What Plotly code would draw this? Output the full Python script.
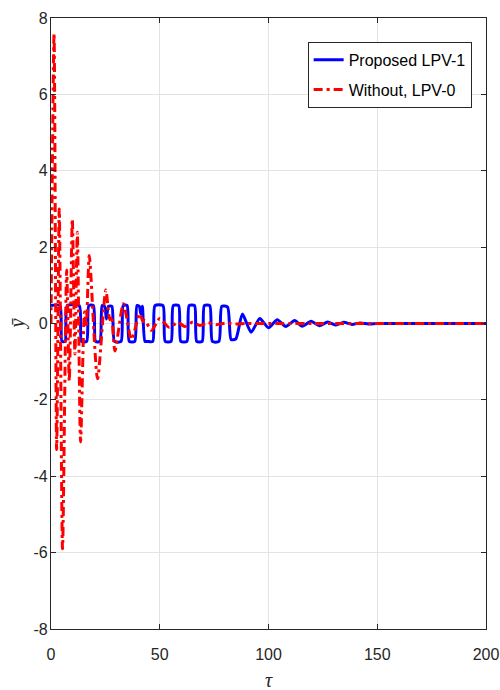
import plotly.graph_objects as go

# Proposed LPV-1 (blue) : tau, value
blue_t = [0, 4.1, 5.0, 6.5, 7.5, 13.0, 14.0, 16.4, 17.4, 19.5, 20.5, 22.5, 23.5, 24.6, 25.5, 26.4,
          28.0, 29.2, 32.2, 33.2, 35.0, 36.0, 38.5, 39.5, 40.6, 41.3, 42.0, 43.2, 44.3, 46.8, 47.8,
          51.5, 52.5, 55.2, 56.2, 58.7, 59.7, 62.5, 63.5, 66.0, 67.0, 69.5, 70.5, 73.0, 74.2, 77.2,
          78.5, 81.2, 82.8, 85.0, 88.0, 92.0, 96.0, 100.0, 104.0, 108.0, 112.0, 115.5, 119.6, 123.4,
          127.2, 131.0, 134.6, 138.4, 142.2, 146.0, 150.0, 160.0, 200.0]
blue_y = [0.47, 0.47, -0.47, -0.47, 0.47, 0.47, -0.47, -0.47, 0.47, 0.47, -0.47, -0.47, 0.47, 0.45, 0.12, 0.45,
          0.45, -0.47, -0.47, 0.47, 0.47, -0.47, -0.47, 0.47, 0.45, 0.25, 0.45, -0.47, -0.47, -0.47, 0.47,
          0.47, -0.47, -0.47, 0.47, 0.47, -0.47, -0.47, 0.47, 0.47, -0.47, -0.47, 0.47, 0.47, -0.47, -0.47,
          0.45, 0.43, -0.42, -0.40, 0.25, -0.23, 0.13, -0.11, 0.10, -0.08, 0.08, -0.07, 0.06, -0.06,
          0.04, -0.04, 0.03, -0.025, 0.015, -0.01, 0.0, 0.0, 0.0]

# Without, LPV-0 (red) : tau, value
red_t = [0, 1.4, 2.6, 3.8, 5.3, 7.2, 8.4, 9.8, 11.0, 12.1, 13.6, 15.4, 16.2, 17.6, 21.4, 25.2, 27.0,
         27.8, 29.4, 33.3, 37.0, 40.8, 42.3, 43.2, 46.2, 50.0, 54.3, 58.4, 61.5, 65.0, 68.5, 72.0,
         76.0, 80.0, 85.0, 90.0, 100.0, 120.0, 200.0]
red_y = [0, 7.6, -3.3, 3.0, -5.9, 1.4, -1.5, 2.74, -0.8, 2.39, -3.1, 0.3, -0.1, 1.78, -1.45, 0.88, 0.1,
         0.2, -0.72, 0.52, -0.42, 0.26, 0.05, 0.08, -0.18, 0.13, -0.1, 0.03, -0.08, 0.03, -0.05, 0.02,
         -0.03, 0.01, -0.01, 0.0, 0.0, 0.0, 0.0]

x_ticks = [0, 50, 100, 150, 200]
x_tick_text = ["0", "50", "100", "150", "200"]
y_ticks = [-8, -6, -4, -2, 0, 2, 4, 6, 8]
y_tick_text = ["-8", "-6", "-4", "-2", "0", "2", "4", "6", "8"]

fig = go.Figure()
fig.add_trace(go.Scatter(x=blue_t, y=blue_y, mode="lines", name="Proposed LPV-1", legendgroup="a",
                         line=dict(color="#0000FF", width=3, shape="spline", smoothing=0.6)))
fig.add_trace(go.Scatter(x=red_t, y=red_y, mode="lines", name="Without, LPV-0", legendgroup="b",
                         line=dict(color="#FF0000", width=3, dash="9px,4px,3px,4px",
                                   shape="spline", smoothing=0.7)))

tick_font = dict(family="Liberation Sans, Arial", size=16, color="#262626")
axis_common = dict(showline=True, linecolor="#262626", linewidth=1.2, mirror="ticks",
                   ticks="inside", ticklen=5, tickcolor="#262626", tickwidth=1,
                   showgrid=True, gridcolor="#e3e3e3", gridwidth=1, zeroline=False,
                   tickfont=tick_font, ticklabeloverflow="allow")

fig.update_xaxes(range=[0, 200], tickvals=x_ticks, ticktext=x_tick_text, ticklabelstandoff=11, **axis_common)
fig.update_yaxes(range=[-8, 8], tickvals=y_ticks, ticktext=y_tick_text, ticklabelstandoff=-1, **axis_common)

fig.add_annotation(text="<i>τ</i>", xref="paper", yref="paper", x=0.5, y=-0.083,
                   showarrow=False, yanchor="middle",
                   font=dict(family="Liberation Serif, DejaVu Serif", size=20, color="#262626"))
fig.add_annotation(text="<i>ȳ</i>", xref="paper", yref="paper", x=-0.078, y=0.5,
                   showarrow=False, textangle=-90, xanchor="center",
                   font=dict(family="Liberation Serif, DejaVu Serif", size=20, color="#262626"))

fig.update_layout(
    width=500, height=690,
    margin=dict(l=51, r=14, t=18, b=61, autoexpand=False),
    plot_bgcolor="white", paper_bgcolor="white",
    showlegend=True,
    legend=dict(x=0.967, y=0.961, xanchor="right", yanchor="top",
                bgcolor="white", bordercolor="#262626", borderwidth=1,
                font=dict(family="Liberation Sans, Arial", size=16, color="#000000"),
                itemwidth=30, traceorder="grouped", tracegroupgap=6),
)

fig.write_html("out.html", config={"displayModeBar": False},
               post_script="document.body.style.margin='0';document.body.style.overflow='hidden';")
